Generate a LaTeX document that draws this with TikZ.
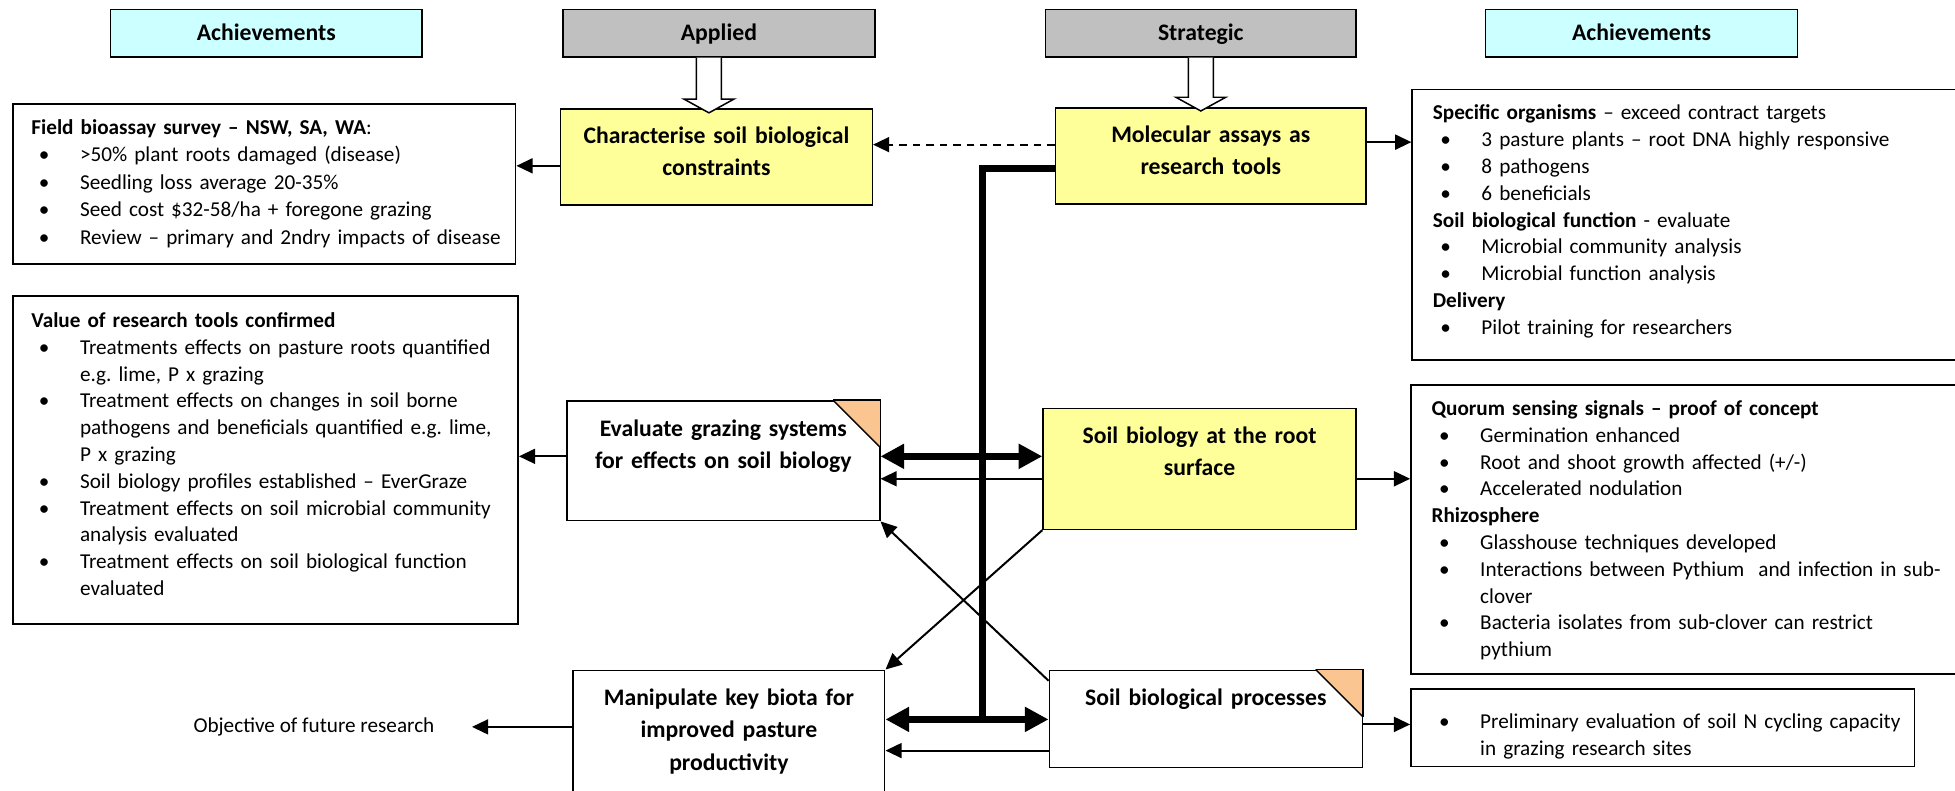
\documentclass[tikz,border=0pt]{standalone}
\usepackage{fontspec}
\setmainfont{Carlito}
\usetikzlibrary{arrows.meta,calc}
\definecolor{cyanbox}{HTML}{CCFFFF}
\definecolor{graybox}{HTML}{C0C0C0}
\definecolor{yellowbox}{HTML}{FFFF99}
\definecolor{cornerfill}{HTML}{FBC592}
\newcommand\bitem{\par\hangindent=39pt\hangafter=1\noindent\makebox[39pt][l]{\hspace{6pt}\textbullet}}
\newcommand\fstrut{\rule{0pt}{15pt}}
\newcommand\tstrut{\rule{0pt}{17pt}}
\frenchspacing
\begin{document}
\begin{tikzpicture}[x=1pt,y=-1pt,
  box/.style={draw=black, line width=1.2pt, anchor=north west, inner sep=0pt},
  hdr/.style={box, font=\fontsize{19}{23}\selectfont\bfseries, text height=16pt, text depth=4pt},
  ttl/.style={anchor=north, inner sep=0pt, text width=240pt, align=center, font=\fontsize{19}{26}\selectfont\bfseries},
  body/.style={anchor=north west, inner sep=0pt, text width=415pt, align=left, font=\fontsize{17}{21.5}\selectfont\frenchspacing},
  arr/.style={line width=1.6pt, -{Triangle[length=13pt,width=12pt]}},
  thk/.style={line width=5.3pt},
  dbl/.style={line width=5.3pt, {Triangle[length=19pt,width=19pt]}-{Triangle[length=19pt,width=19pt]}},
  hollow/.style={line width=1.2pt, fill=white, line join=miter},
  cornerline/.style={line width=1.2pt}
]
\useasboundingbox (0,0) rectangle (1568,634);

% header boxes
\node[hdr, fill=cyanbox, minimum width=250pt, minimum height=38pt] (achL) at (88,7) {Achievements};
\node[hdr, fill=graybox, minimum width=250pt, minimum height=38pt] (applied) at (451,7) {Applied};
\node[hdr, fill=graybox, minimum width=249pt, minimum height=38pt] (strat) at (838,7) {Strategic};
\node[hdr, fill=cyanbox, minimum width=250pt, minimum height=38pt] (achR) at (1191,7) {Achievements};

% boxes
\node[box, fill=white, minimum width=403pt, minimum height=128pt] (field) at (10,83) {};
\node[box, fill=yellowbox, minimum width=250pt, minimum height=77pt] (char) at (449,87) {};
\node[box, fill=yellowbox, minimum width=249pt, minimum height=77pt] (mol) at (846,86) {};
\node[box, fill=white, minimum width=440pt, minimum height=217pt] (spec) at (1132,71) {};
\node[box, fill=white, minimum width=405pt, minimum height=263pt] (value) at (10,237) {};
\node[box, fill=white, minimum width=251pt, minimum height=96pt] (eval) at (454,321) {};
\node[box, fill=yellowbox, minimum width=251pt, minimum height=97pt] (soil) at (836,327) {};
\node[box, fill=white, minimum width=440pt, minimum height=232pt] (quorum) at (1131,308) {};
\node[box, fill=white, minimum width=250pt, minimum height=110pt] (manip) at (459,537) {};
\node[box, fill=white, minimum width=251pt, minimum height=78pt] (proc) at (841,537) {};
\node[box, fill=white, minimum width=404pt, minimum height=62pt] (prelim) at (1131,552) {};

% folded corners
\fill[cornerfill] (eval.north east) -- ($(eval.north east)+(-38,0)$) -- ($(eval.north east)+(0,38)$) -- cycle;
\draw[cornerline] ($(eval.north east)+(-38,0)$) -- ($(eval.north east)+(0,38)$);
\draw[cornerline] ($(eval.north east)+(-38,0)$) -- (eval.north east) -- ($(eval.north east)+(0,38)$);
\fill[cornerfill] (proc.north east) -- ($(proc.north east)+(-38,0)$) -- ($(proc.north east)+(0,38)$) -- cycle;
\draw[cornerline] ($(proc.north east)+(-38,0)$) -- ($(proc.north east)+(0,38)$);
\draw[cornerline] ($(proc.north east)+(-38,0)$) -- (proc.north east) -- ($(proc.north east)+(0,38)$);

% titles
\node[ttl] (charT) at ([yshift=-10.5pt]char.north) {\tstrut Characterise soil biological\\constraints};
\node[ttl] (molT) at ([yshift=-11pt]mol.north) {\tstrut Molecular assays as\\research tools};
\node[ttl] (evalT) at ([yshift=-11.5pt]eval.north) {\tstrut Evaluate grazing systems\\for effects on soil biology};
\node[ttl] (soilT) at ([yshift=-11.5pt]soil.north) {\tstrut Soil biology at the root\\surface};
\node[ttl] (procT) at ([yshift=-11.5pt]proc.north) {\tstrut Soil biological processes};
\node[ttl] (manipT) at ([yshift=-11.5pt]manip.north) {\tstrut Manipulate key biota for\\improved pasture\\productivity};

% body texts
\node[body, font=\fontsize{17}{22}\selectfont] (fieldT) at (25,92.5) {\fstrut\textbf{Field bioassay survey – NSW, SA, WA}:%
\bitem >50\% plant roots damaged (disease)%
\bitem Seedling loss average 20-35\%%
\bitem Seed cost \$32-58/ha + foregone grazing%
\bitem Review – primary and 2ndry impacts of disease\par};

\node[body] (valueT) at (25,247.5) {\fstrut\textbf{Value of research tools confirmed}%
\bitem Treatments effects on pasture roots quantified\newline e.g. lime, P x grazing%
\bitem Treatment effects on changes in soil borne\newline pathogens and beneficials quantified e.g. lime,\newline P x grazing%
\bitem Soil biology profiles established – EverGraze%
\bitem Treatment effects on soil microbial community\newline analysis evaluated%
\bitem Treatment effects on soil biological function\newline evaluated\par};

\node[body] (specT) at (1149,81) {\fstrut\textbf{Specific organisms} – exceed contract targets%
\bitem 3 pasture plants – root DNA highly responsive%
\bitem 8 pathogens%
\bitem 6 beneficials\par\noindent
\textbf{Soil biological function} - evaluate%
\bitem Microbial community analysis%
\bitem Microbial function analysis\par\noindent
\textbf{Delivery}%
\bitem Pilot training for researchers\par};

\node[body] (quorumT) at (1148,318) {\fstrut\textbf{Quorum sensing signals – proof of concept}%
\bitem Germination enhanced%
\bitem Root and shoot growth affected (+/-)%
\bitem Accelerated nodulation\par\noindent
\textbf{Rhizosphere}%
\bitem Glasshouse techniques developed%
\bitem Interactions between Pythium\ \ and infection in sub-\newline clover%
\bitem Bacteria isolates from sub-clover can restrict\newline pythium\par};

\node[body] (prelimT) at (1148,562.5) {\bitem\fstrut Preliminary evaluation of soil N cycling capacity\newline in grazing research sites\par};

\node[anchor=west, inner sep=0pt, font=\fontsize{17}{21.5}\selectfont] (obj) at (155,583) {Objective of future research};

% level coordinates
\coordinate (Y114) at (0,114);
\coordinate (Y116) at (0,116);
\coordinate (Y133) at (0,133);
\coordinate (Y135) at (0,135);
\coordinate (Y366) at (0,366);
\coordinate (Y384) at (0,384);
\coordinate (Y577) at (0,577);
\coordinate (Y581) at (0,581);
\coordinate (Y583) at (0,583);
\coordinate (Y602) at (0,602);
\coordinate (jn) at (788,577);

% hollow block arrows
\coordinate (aTop) at ([xshift=-8pt]applied.south);
\coordinate (aTip) at ([yshift=-3.5pt]aTop |- char.north);
\draw[hollow] ($(aTop)+(-10,0)$) -- ($(aTip)+(-10,-11)$) -- ($(aTip)+(-20,-11)$) -- (aTip) -- ($(aTip)+(20,-11)$) -- ($(aTip)+(10,-11)$) -- ($(aTop)+(10,0)$);
\coordinate (sTop) at (strat.south);
\coordinate (sTip) at ([yshift=-3pt]sTop |- mol.north);
\draw[hollow] ($(sTop)+(-10,0)$) -- ($(sTip)+(-10,-11)$) -- ($(sTip)+(-20,-11)$) -- (sTip) -- ($(sTip)+(20,-11)$) -- ($(sTip)+(10,-11)$) -- ($(sTop)+(10,0)$);

% connectors
\draw[arr] (char.west |- Y133) -- (field.east |- Y133);
\draw[arr, dash pattern=on 6pt off 4.8pt] (mol.west |- Y116) -- (char.east |- Y116);
\draw[arr] (mol.east |- Y114) -- (spec.west |- Y114);
\draw[dbl] (eval.east |- Y366) -- (soil.west |- Y366);
\draw[arr] (soil.west |- Y384) -- (eval.east |- Y384);
\draw[arr] (soil.east |- Y384) -- (quorum.west |- Y384);
\draw[arr] (eval.west |- Y366) -- (value.east |- Y366);
\draw[dbl] (manip.east |- Y577) -- (proc.west |- Y577);
\draw[thk] (mol.west |- Y135) -| (jn);
\draw[arr] (proc.west |- Y602) -- (manip.east |- Y602);
\draw[arr] (manip.west |- Y583) -- ([xshift=30pt]obj.east);
\draw[arr] (proc.east |- Y581) -- (prelim.west |- Y581);
\draw[arr] (soil.south west) -- (manip.north east);
\draw[arr] ([yshift=-9pt]proc.north west) -- (eval.south east);
\end{tikzpicture}
\end{document}
